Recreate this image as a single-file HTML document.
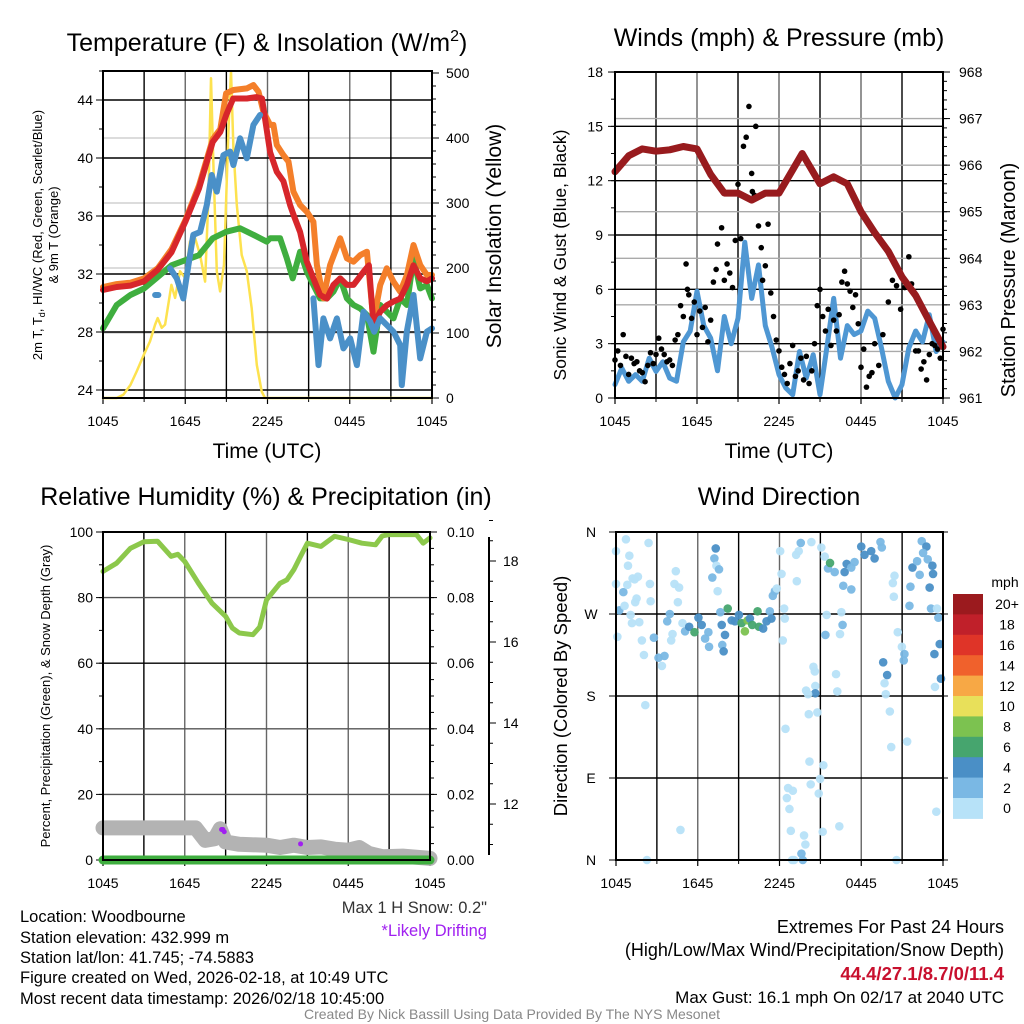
<!DOCTYPE html>
<html><head><meta charset="utf-8">
<style>
html,body{margin:0;padding:0;background:#fff;}
svg{display:block;font-family:"Liberation Sans",Arial,sans-serif;}
</style></head>
<body>
<svg id="chart" width="1024" height="1024" viewBox="0 0 1024 1024" xmlns="http://www.w3.org/2000/svg">
<rect x="0" y="0" width="1024" height="1024" fill="#fff"/>
<text x="267" y="51" font-size="25" text-anchor="middle">Temperature (F) &amp; Insolation (W/m<tspan dy="-10" font-size="16">2</tspan><tspan dy="10">)</tspan></text>
<text x="779" y="46" font-size="25" text-anchor="middle">Winds (mph) &amp; Pressure (mb)</text>
<text x="266" y="505" font-size="25" text-anchor="middle">Relative Humidity (%) &amp; Precipitation (in)</text>
<text x="779" y="505" font-size="25" text-anchor="middle">Wind Direction</text>
<text x="267" y="458" font-size="21" text-anchor="middle">Time (UTC)</text>
<text x="779" y="458" font-size="21" text-anchor="middle">Time (UTC)</text>
<text transform="translate(42,235) rotate(-90)" font-size="13" text-anchor="middle">2m T, T<tspan dy="3" font-size="9">d</tspan><tspan dy="-3">, HI/WC (Red, Green, Scarlet/Blue)</tspan></text>
<text transform="translate(58,235) rotate(-90)" font-size="13" text-anchor="middle">&amp; 9m T (Orange)</text>
<text transform="translate(501,236) rotate(-90)" font-size="21" text-anchor="middle">Solar Insolation (Yellow)</text>
<text transform="translate(566,255) rotate(-90)" font-size="17.5" text-anchor="middle">Sonic Wind &amp; Gust (Blue, Black)</text>
<text transform="translate(1015,280) rotate(-90)" font-size="20" text-anchor="middle">Station Pressure (Maroon)</text>
<text transform="translate(50,696) rotate(-90)" font-size="13" text-anchor="middle">Percent, Precipitation (Green), &amp; Snow Depth (Gray)</text>
<text transform="translate(567,696) rotate(-90)" font-size="18.5" text-anchor="middle">Direction (Colored By Speed)</text>
<g font-size="16.5">
<text x="20" y="922">Location: Woodbourne</text>
<text x="20" y="943">Station elevation: 432.999 m</text>
<text x="20" y="963">Station lat/lon: 41.745; -74.5883</text>
<text x="20" y="983">Figure created on Wed, 2026-02-18, at 10:49 UTC</text>
<text x="20" y="1004">Most recent data timestamp: 2026/02/18 10:45:00</text>
</g>
<text x="487" y="913" font-size="16.5" text-anchor="end" fill="#333">Max 1 H Snow: 0.2"</text>
<text x="487" y="936" font-size="16.5" text-anchor="end" fill="#a020f0">*Likely Drifting</text>
<text x="1004" y="933" font-size="18" text-anchor="end">Extremes For Past 24 Hours</text>
<text x="1004" y="956" font-size="18" text-anchor="end">(High/Low/Max Wind/Precipitation/Snow Depth)</text>
<text x="1004" y="980" font-size="18.5" font-weight="bold" text-anchor="end" fill="#c8102e">44.4/27.1/8.7/0/11.4</text>
<text x="1004" y="1003" font-size="17" text-anchor="end">Max Gust: 16.1 mph On 02/17 at 2040 UTC</text>
<text x="512" y="1019" font-size="14" text-anchor="middle" fill="#888">Created By Nick Bassill Using Data Provided By The NYS Mesonet</text>
</svg>
<script>
// ---------- Panel 1 data ----------
const tempHours = [0,1,2,3,4,5,6,7,8,8.56,9,9.5,10.5,11.2,11.6,12.19,12.68,13.16,13.65,13.89,14.38,14.87,15.35,15.84,16.33,16.81,17.3,17.79,18.27,19.0,19.4,19.73,20.22,20.7,21.19,21.68,22.17,22.65,23.14,23.63,24];
const tempVals = [30.9,31.1,31.2,31.5,32.3,33.5,35.6,37.9,41.1,41.8,43.0,44.1,44.1,44.2,44.1,40.4,39.05,38.4,36.75,36.1,34.9,32.85,31.7,30.55,30.3,31.25,31.7,31.25,31.25,32.15,32.6,28.5,29.4,29.85,30.1,30.3,31.25,32.6,31.7,31.5,31.7];
const t9Hours = [0,1,2,3,4,5,6,7,8,8.56,8.98,9.51,10.49,10.97,11.34,11.7,12.19,12.43,12.68,13.16,13.53,13.89,14.38,14.87,15.35,15.6,16.08,16.57,17.3,17.79,18.27,18.76,19.25,19.73,20.22,20.7,21.19,21.68,22.17,22.65,23.14,23.63,24];
const t9Vals = [31.1,31.3,31.4,31.7,32.4,33.7,35.7,38.1,41.3,42.0,44.46,44.69,44.8,45.03,44.57,43.2,42.28,42.28,40.9,40.2,39.75,37.68,36.76,36.3,35.6,32.62,30.32,32.62,34.46,33.08,32.85,33.3,33.54,28.71,31.24,32.39,31.47,30.78,31.93,34.0,32.62,31.93,31.93];
const dewHours = [0,1,2,3,4,5,6,7,8,9,10,11,11.95,12.19,12.92,13.41,13.84,14.38,14.87,15.35,15.84,16.33,16.81,17.3,17.79,18.27,18.76,19.25,19.73,20.22,20.7,21.19,21.68,22.17,22.65,23.14,23.63,24];
const dewVals = [28.25,29.86,30.55,31.0,31.8,32.6,32.95,33.3,34.46,34.92,35.15,34.69,34.23,34.46,34.46,33.08,31.7,33.54,32.16,31.24,30.32,30.32,30.78,31.7,30.32,29.86,29.63,29.17,26.64,29.86,29.4,28.94,30.32,29.86,33.08,31.01,31.24,30.32];
const hiwcHours = [3.8,4.04,null,4.89,5.38,5.86,6.23,6.59,7.08,7.57,7.93,8.3,8.78,9.27,9.51,10,10.49,10.97,11.46,null,15.35,15.72,16.08,16.57,17.06,17.54,18.03,18.52,19.0,19.49,19.78,20.22,20.7,21.19,21.68,21.8,22.16,22.65,23.14,23.63,24];
const hiwcVals = [30.55,30.55,null,32.4,31.7,30.32,32.6,34.7,34.9,36.76,38.83,37.68,40.2,40.44,39.52,41.36,39.98,42.28,42.97,null,30.32,25.72,28.94,27.56,28.94,26.87,27.56,25.72,29.4,28.71,28.02,28.94,28.48,28.02,27.1,24.34,28.02,30.55,26.18,28.02,28.25];
const solarHours = [0,1,1.48,2,2.46,2.99,3.43,3.8,3.99,4.28,4.53,4.99,5.26,5.62,5.99,6.35,6.72,7.08,7.45,7.69,7.88,8.05,8.3,8.54,8.83,9.15,9.34,9.51,9.76,10.12,10.49,10.85,11.22,11.58,11.82,24];
const solarVals = [0,0,5,20,41,67,87,113,123,108,113,174,154,195,185,241,246,220,179,308,492,359,195,164,205,410,503,385,297,220,195,138,51,10,0,0];
const p1LeftTicks = [24,28,32,36,40,44];
const p1RightTicks = [0,100,200,300,400,500];
const timeTickLabels = ["1045","1645","2245","0445","1045"];
// ---------- Panel 2 data ----------
const presHours = [0,1,2,3,4,5,6,7,8,9,10,11,12,13,13.7,14,15,16,17,18,19,20,21,22,23,24];
const presVals = [965.86,966.2,966.35,966.3,966.33,966.4,966.35,965.8,965.4,965.4,965.25,965.4,965.4,965.9,966.25,966.1,965.6,965.75,965.6,965.0,964.55,964.15,963.6,963.2,962.65,962.1];
const windHours = [0,0.5,1,1.5,2,2.5,3,3.5,4,4.5,5,5.5,6,6.5,7,7.5,8,8.5,9,9.5,10,10.5,11,11.5,12,12.5,13,13.5,14,14.5,15,15.5,16,16.5,17,17.5,18,18.5,19,19.5,20,20.5,21,21.5,22,22.5,23,23.5,24];
const windVals = [0.74,1.65,0.92,1.29,0.92,2.2,1.47,2.0,1.1,0.92,3.1,3.7,5.9,4.0,3.3,1.5,4.5,3.0,4.4,8.6,5.5,7.35,4.0,2.76,1.29,0.55,0.18,2.57,1.1,2.39,0.18,2.76,5.5,2.2,4.0,3.5,3.7,4.8,4.4,2.76,0.92,0,0.74,2.76,3.7,3.1,4.6,2.57,3.1];
const gustHours = [0,0.2,0.4,0.6,0.8,1,1.2,1.4,1.6,1.8,2,2.2,2.4,2.6,2.8,3,3.2,3.4,3.6,3.8,4,4.2,4.4,4.6,4.8,5,5.2,5.3,5.4,5.6,5.8,6,6.2,6.4,6.6,6.8,7,7.2,7.4,7.5,7.8,8,8.2,8.4,8.6,8.8,9,9.2,9.4,9.6,9.8,10,10.05,10.2,10.3,10.5,10.7,10.8,11,11.2,11.4,11.6,11.8,12,12.2,12.4,12.6,12.8,13,13.2,13.4,13.6,13.8,14,14.2,14.4,14.6,14.8,15,15.2,15.4,15.6,15.8,16,16.2,16.4,16.6,16.8,17,17.2,17.4,17.6,17.8,18,18.2,18.4,18.6,18.8,19,19.3,19.6,20,20.3,20.6,20.9,21.2,21.5,21.7,22,22.2,22.4,22.6,22.8,23,23.2,23.4,23.6,23.8,24];
const gustVals = [2.1,2.6,1.8,3.5,2.3,1.3,2.2,1.9,2.0,1.5,1.4,0.9,1.8,2.5,1.9,2.4,3.3,2.7,2.4,2.0,2.1,1.8,3.2,3.5,5.1,4.5,7.4,6.0,5.7,4.4,5.3,3.5,4.8,3.9,5.0,3.1,4.3,6.4,7.1,8.5,9.4,6.5,7.4,6.9,6.1,8.7,11.8,8.8,13.9,14.4,16.1,12.4,11.4,11.2,15.0,9.5,8.3,6.5,7.3,9.6,5.8,4.5,3.2,2.6,1.7,1.3,0.8,1.9,2.9,1.2,1.5,2.2,1.0,2.3,0.8,1.5,3.0,5.1,6.0,4.5,3.7,4.9,2.9,4.3,3.7,4.6,6.4,7.0,6.3,5.9,5.0,5.7,4.1,1.7,2.7,0.6,1.2,1.4,3.0,1.8,3.5,5.3,6.5,6.2,4.9,6.1,7.8,6.3,2.6,2.6,1.6,2.0,1.0,2.4,3.0,2.9,2.7,2.2,3.8];
const p2LeftTicks = [0,3,6,9,12,15,18];
const p2RightTicks = [961,962,963,964,965,966,967,968];
// ---------- Panel 3 data ----------
const rhHours = [0,1,2,3,4,5,5.5,6,7,8,9,9.5,10,11,11.5,12,13,13.5,14,14.5,15,16,17,18,19,20,20.5,21,22,23,23.5,24];
const rhVals = [88,90.5,95,97,97.2,92.6,93.2,91,84.4,78.3,74.3,70.7,69.2,68.7,71,79.3,84.4,85.4,88.5,92.6,96.6,95.6,98.7,97.7,96.6,96.1,98.8,99.2,99.2,99.2,96.6,98.2];
const snowHours = [0,6.8,7.5,8.2,8.6,9,10,12,13,14,15,16,17,18,18.8,19.5,20.5,22,24];
const snowVals = [9.8,9.8,6.0,6.5,9.5,5.5,4.8,4.5,3.8,4.5,3.8,4.0,3.3,3.0,3.8,2.0,1.0,1.2,0.5];
const precipHours = [0,24];
const precipVals = [0,0];
const driftHours = [8.7,8.8,8.9,14.5];
const driftVals = [9.3,9.3,8.6,4.9];
const p3LeftTicks = [0,20,40,60,80,100];
const p3RightLabels = ["0.00","0.02","0.04","0.06","0.08","0.10"];
const snowTicks = [12,14,16,18];
// ---------- Panel 4 data ----------
const dirHours = [0,0.73,2.39,0.98,0.88,0,0.54,0.83,1.22,1.61, 1.37,2.49,0.24,0.63,1.07,1.51,1.41,2.54,1.71,1.17, 0.1,1.9,2.78,2.05,3.12,3.56,3.37,2.15,4.73,2.27, 4.39,4.29,4.63,4.54,3.76,3.95,4.15,4.05,4.88,5.07, 5.37,5.76,6.05,6.29,6.78,6.83,6.54,7.32,7.22,7.37, 7.56,7.07,7.46,7.66,7.76,8,7.8,7.9,8.2,8.49, 8.73,9.02,9.22,9.46,9.66,9.83,10,10.39,10.49,10.8, 11.05,11.29,11.41,11.51,11.66,11.8,12.15,12.34,12.39,12.24, 12.05,13.22,13.56,13.41,14.34,15.07,13.27,15.32,15.56,15.71, 16.05,16.93,16.78,16.68,17.27,17.27,17.51,18,18.24,18.73, 18.98,19.41,19.51,15.46,15.37,16.54,16.63,16.44,20.44,20.32, 20.39,20.68,20.98,21.17,21.12,19.61,19.9,19.71,19.8,20.1, 20.2,21.37,21.76,22.1,22.29,22.44,22.78,22.54,22.88,23.22, 23.27,23.02,21.61,21.54,23.12,23.56,23.66,23.76,23.37,23.85, 23.41,23.51,14.49,14.59,13.95,14.63,14.63,14.1,14.15,14.78, 16.15,16.24,12.44,14.2,15.22,14.98,14.29,14.88,12.63,12.98, 12.54,12.73,12.83,13.8,13.9,13.61,12.93,13.07,13.71,15.17, 16.39,20.59];
const dirVals = [339,352,348,334,323,303,294,302,309,311, 308,303,274,279,269,287,283,284,261,260, 245,241,244,225,222,224,213,170,33,0, 317,303,299,283,262,270,248,241,260,251, 256,250,266,258,250,234,243,342,331,323, 319,310,295,272,258,247,236,229,276,263, 262,269,260,251,263,265,258,273,256,254, 262,273,265,290,295,298,314,276,265,241, 339,335,348,339,349,343,306,333,320,326, 316,325,316,301,297,321,327,344,335,339, 331,349,343,269,247,272,258,248,312,304, 289,250,234,226,219,217,203,194,182,163, 124,130,321,328,313,350,344,337,330,323, 314,299,300,279,276,276,266,237,226,199, 190,53,212,207,186,191,183,182,160,162, 204,185,144,108,104,89,83,73,79,76, 68,56,32,27,17,7,0,0,0,31, 37,0];
const dirSpeeds = [1,1,1,1,1,1,2.5,1,1,1, 1,1,2.5,1,1,1,1,1,1,1, 1,1,2.5,1,2.5,2.5,1,1,1,1, 1,1,1,1,2.5,2.5,1,1,1,2.5, 4.5,6.5,4.5,4.5,2.5,2.5,2.5,4.5,2.5,1, 2.5,2.5,1,2.5,4.5,4.5,2.5,4.5,6.5,4.5, 4.5,4.5,6.5,8.5,8.5,4.5,6.5,6.5,6.5,4.5, 4.5,2.5,4.5,2.5,2.5,1,1,1,1,1, 1,1,2.5,1,1,1,1,1,2.5,6.5, 2.5,4.5,4.5,2.5,2.5,2.5,2.5,4.5,4.5,4.5, 4.5,2.5,2.5,1,2.5,1,2.5,1,1,1, 1,1,1,2.5,2.5,4.5,4.5,1,1,1, 1,1,4.5,2.5,2.5,2.5,4.5,2.5,2.5,4.5, 4.5,4.5,2.5,2.5,2.5,1,2.5,4.5,4.5,4.5, 1,1,1,1,1,1,4.5,1,1,1, 1,1,1,1,1,1,1,1,1,1, 1,1,1,1,1,2.5,1,1,2.5,1, 1,1];
const dirTickLabels = ["N","E","S","W","N"];
const speedBins = [0,2,4,6,8,10,12,14,16,18,20];
const speedColors = ["#b7e2f8","#7ab8e4","#4a8fc6","#46a56e","#7cc250","#e8e05a","#f7a845","#f0612c","#df3428","#c0202a","#9b1a1e"];
const speedLabels = ["0","2","4","6","8","10","12","14","16","18","20+"];

const NS = "http://www.w3.org/2000/svg";
const svg = document.getElementById("chart");
function mk(tag, attrs, parent){
  const e = document.createElementNS(NS, tag);
  for (const k in attrs) e.setAttribute(k, attrs[k]);
  (parent || svg).appendChild(e);
  return e;
}
function linePath(hours, vals, xf, yf){
  let d = "", pen = false;
  for (let i = 0; i < hours.length; i++){
    if (hours[i] === null || vals[i] === null){ pen = false; continue; }
    d += (pen ? "L" : "M") + xf(hours[i]).toFixed(1) + "," + yf(vals[i]).toFixed(1);
    pen = true;
  }
  return d;
}
function frame(P, name){
  const g = mk("g", {});
  
  
  for (let h = 3; h < 24; h += 3){
    const x = P.x(h);
    const l = mk("line", {x1:x, x2:x, y1:P.y0, y2:P.y1, stroke:(h % 6 === 0 ? "#666" : "#000"), "stroke-width":1.4}, g);
    
    
  }
  for (let i = 0; i < 5; i++){
    const h = i * 6, x = P.x(h);
    const tk = mk("line", {x1:x, x2:x, y1:P.y1, y2:P.y1 + 6, stroke:"#000", "stroke-width":1.2}, g);
    
    
    const t = mk("text", {x:x, y:P.y1 + 28, "font-size":14, "text-anchor":"middle"}, g);
    t.textContent = timeTickLabels[i];
    
    
  }
  for (let h = 3; h < 24; h += 6){
    const x = P.x(h);
    const tk = mk("line", {x1:x, x2:x, y1:P.y1, y2:P.y1 + 4, stroke:"#000", "stroke-width":1}, g);
    
    
  }
  return g;
}
function border(P, name){
  const r = mk("rect", {x:P.x0, y:P.y0, width:P.x1 - P.x0, height:P.y1 - P.y0, fill:"none", stroke:"#000", "stroke-width":2});
  
  
}
function hLine(P, y, color, name){
  const l = mk("line", {x1:P.x0, x2:P.x1, y1:y, y2:y, stroke:color, "stroke-width":1.4});
  
  
}
function ylabel(x, y, txt, anchor, name){
  const t = mk("text", {x:x, y:y + 5, "font-size":14, "text-anchor":anchor});
  t.textContent = txt;
  
  
}
function tick(x1, x2, y, name){
  const l = mk("line", {x1:x1, x2:x2, y1:y, y2:y, stroke:"#000", "stroke-width":1});
  
  
}
function series(d, color, w, name){
  const p = mk("path", {d:d, fill:"none", stroke:color, "stroke-width":w, "stroke-linejoin":"round", "stroke-linecap":"round"});
  
  
  return p;
}

// ---------- Panel 1 ----------
const P1 = {x0:103, x1:432, y0:71, y1:398};
P1.x = h => P1.x0 + h * (P1.x1 - P1.x0) / 24;
const y1L = v => 100 + (44 - v) * 14.5;
const y1R = v => 398 - v * 0.65;
p1RightTicks.forEach(v => { if (v > 0 && v < 500) hLine(P1, y1R(v), "#d0d0d0", "p1-right-gridline"); });
frame(P1, "p1");
p1LeftTicks.forEach(v => {
  hLine(P1, y1L(v), "#000", "p1-horizontal-gridline");
  tick(P1.x0 - 7, P1.x0, y1L(v), "p1-left-tick");
  ylabel(P1.x0 - 10, y1L(v), String(v), "end", "p1-left-tick-label");
});
for (let v = 24; v <= 46; v += 2) tick(P1.x0 - 4, P1.x0, y1L(v), "p1-left-minor-tick");
p1RightTicks.forEach(v => {
  tick(P1.x1, P1.x1 + 7, y1R(v), "p1-right-tick");
  ylabel(P1.x1 + 14, y1R(v), String(v), "start", "p1-right-tick-label");
});
for (let v = 0; v <= 500; v += 20) tick(P1.x1, P1.x1 + 4, y1R(v), "p1-right-minor-tick");
series(linePath(solarHours, solarVals, P1.x, y1R), "#fde24f", 2.5, "solar-insolation-line");
series(linePath(dewHours, dewVals, P1.x, y1L), "#3fae3f", 6, "dewpoint-line");
series(linePath(t9Hours, t9Vals, P1.x, y1L), "#f47f2a", 6, "temp-9m-line");
series(linePath(tempHours, tempVals, P1.x, y1L), "#d7262b", 6, "temp-2m-line");
series(linePath(hiwcHours, hiwcVals, P1.x, y1L), "#4a90c8", 6, "heat-index-windchill-line");
border(P1, "p1");

// ---------- Panel 2 ----------
const P2 = {x0:615, x1:943, y0:72, y1:398};
P2.x = h => P2.x0 + h * (P2.x1 - P2.x0) / 24;
const y2W = v => 398 - v * 18.11;
const y2P = p => 398 - (p - 961) * 46.57;
frame(P2, "p2");
p2LeftTicks.forEach(v => {
  hLine(P2, y2W(v), "#000", "p2-horizontal-gridline");
  tick(P2.x0 - 7, P2.x0, y2W(v), "p2-left-tick");
  ylabel(P2.x0 - 12, y2W(v), String(v), "end", "p2-left-tick-label");
});
for (let v = 0; v <= 18; v += 1.5) tick(P2.x0 - 4, P2.x0, y2W(v), "p2-left-minor-tick");
p2RightTicks.forEach(v => {
  hLine(P2, y2P(v), "#aaa", "p2-right-gridline");
  tick(P2.x1, P2.x1 + 7, y2P(v), "p2-right-tick");
  ylabel(P2.x1 + 16, y2P(v), String(v), "start", "p2-right-tick-label");
});
for (let v = 961; v <= 968; v += 0.2) tick(P2.x1, P2.x1 + 4, y2P(v), "p2-right-minor-tick");
series(linePath(windHours, windVals, P2.x, y2W), "#4f97d3", 5, "sonic-wind-line");
for (let i = 0; i < gustHours.length; i++){
  const c = mk("circle", {cx:P2.x(gustHours[i]), cy:y2W(gustVals[i]), r:2.8, fill:"#000"});
  
  
}
series(linePath(presHours, presVals, P2.x, y2P), "#981b1e", 7, "pressure-line");
border(P2, "p2");

// ---------- Panel 3 ----------
const P3 = {x0:103, x1:430, y0:532, y1:860};
P3.x = h => P3.x0 + h * (P3.x1 - P3.x0) / 24;
const y3 = v => 860 - v * 3.28;
const ySnow = v => 804 - (v - 12) * 40.5;
frame(P3, "p3");
p3LeftTicks.forEach((v, i) => {
  hLine(P3, y3(v), v === 20 || v === 40 || v === 80 ? "#555" : "#000", "p3-horizontal-gridline");
  tick(P3.x0 - 7, P3.x0, y3(v), "p3-left-tick");
  ylabel(P3.x0 - 10, y3(v), String(v), "end", "p3-left-tick-label");
  tick(P3.x1, P3.x1 + 7, y3(v), "p3-right-tick");
  ylabel(P3.x1 + 17, y3(v), p3RightLabels[i], "start", "p3-right-tick-label");
});
for (let v = 0; v <= 100; v += 10) tick(P3.x0 - 4, P3.x0, y3(v), "p3-left-minor-tick");
for (let v = 0; v <= 100; v += 5) tick(P3.x1, P3.x1 + 4, y3(v), "p3-right-minor-tick");
(function(){
  const l = mk("line", {x1:489, x2:489, y1:537, y2:855, stroke:"#000", "stroke-width":2});
  
  
})();
snowTicks.forEach(v => {
  tick(489, 496, ySnow(v), "snow-axis-tick");
  ylabel(503, ySnow(v), String(v), "start", "snow-axis-tick-label");
});
for (let v = 11; v <= 19; v += 0.5) tick(489, 493, ySnow(v), "snow-axis-minor-tick");
series(linePath(snowHours, snowVals, P3.x, y3), "#b3b3b3", 15, "snow-depth-line");
series(linePath(precipHours, precipVals, P3.x, y3), "#3fae3f", 9, "precipitation-line");
series(linePath(rhHours, rhVals, P3.x, y3), "#8cc84b", 5, "relative-humidity-line");
for (let i = 0; i < driftHours.length; i++){
  const c = mk("circle", {cx:P3.x(driftHours[i]), cy:y3(driftVals[i]), r:2.5, fill:"#a020f0"});
  
  
}
border(P3, "p3");

// ---------- Panel 4 ----------
const P4 = {x0:616, x1:943, y0:532, y1:860};
P4.x = h => P4.x0 + h * (P4.x1 - P4.x0) / 24;
const y4 = d => 860 - d * 0.9111;
frame(P4, "p4");
dirTickLabels.forEach((lab, i) => {
  const d = i * 90;
  hLine(P4, y4(d), "#000", "p4-horizontal-gridline");
  tick(P4.x0 - 7, P4.x0, y4(d), "p4-left-tick");
  ylabel(P4.x0 - 25, y4(d), lab, "middle", "p4-direction-label");
  tick(P4.x1, P4.x1 + 5, y4(d), "p4-right-tick");
});
function speedColor(s){
  let idx = 0;
  for (let i = 0; i < speedBins.length; i++) if (s >= speedBins[i]) idx = i;
  return speedColors[idx];
}
for (let i = 0; i < dirHours.length; i++){
  const c = mk("circle", {cx:P4.x(dirHours[i]), cy:y4(dirVals[i]), r:4.3, fill:speedColor(dirSpeeds[i]), opacity:0.95});
  
  
}
border(P4, "p4");
(function(){
  const top = 594, bh = 20.4;
  const t = mk("text", {x:1005, y:587, "font-size":14, "text-anchor":"middle"});
  t.textContent = "mph";
  
  
  for (let i = 0; i < speedColors.length; i++){
    const k = speedColors.length - 1 - i;
    const r = mk("rect", {x:953, y:top + i * bh, width:30, height:bh + 0.5, fill:speedColors[k]});
    
    
    const l = mk("text", {x:1007, y:top + i * bh + bh / 2 + 5, "font-size":14, "text-anchor":"middle"});
    l.textContent = speedLabels[k];
    
    
  }
})();
</script>
</body></html>
